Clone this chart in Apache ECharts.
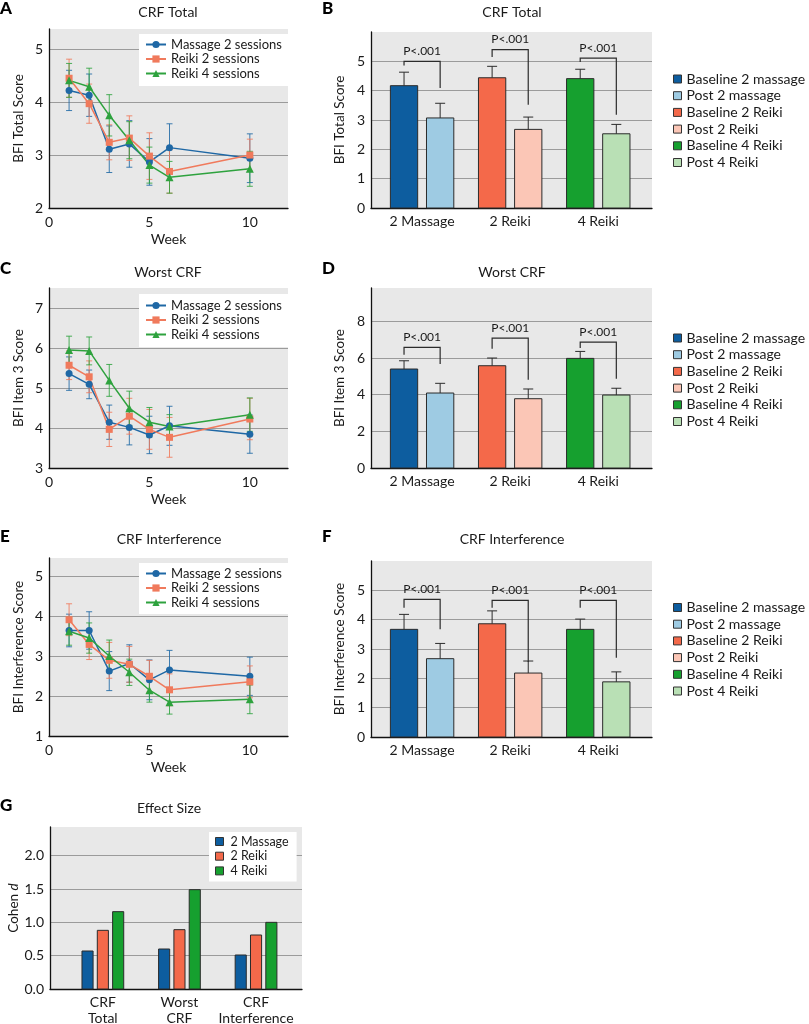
<!DOCTYPE html>
<html>
<head>
<meta charset="utf-8">
<script src="https://cdn.jsdelivr.net/npm/echarts@6/dist/echarts.min.js"></script>
<style>
html, body { margin: 0; padding: 0; background: #fff; }
#chart { width: 809px; height: 1024px; }
</style>
</head>
<body>
<div id="chart"></div>
<script>
// ---- data ----
var weeks = [1, 2, 3, 4, 5, 6, 10];

// A: CRF total over time
var totalMassage = [4.22, 4.13, 3.11, 3.21, 2.87, 3.14, 2.94];
var totalMassageErr = [0.38, 0.40, 0.44, 0.44, 0.44, 0.45, 0.46];
var totalReiki2 = [4.45, 3.97, 3.24, 3.32, 2.98, 2.69, 3.00];
var totalReiki2Err = [0.36, 0.37, 0.33, 0.42, 0.44, 0.41, 0.30];
var totalReiki4 = [4.41, 4.29, 3.75, 3.28, 2.81, 2.58, 2.74];
var totalReiki4Err = [0.32, 0.35, 0.39, 0.35, 0.34, 0.30, 0.33];

// C: worst CRF over time
var worstMassage = [5.37, 5.10, 4.15, 4.02, 3.83, 4.06, 3.85];
var worstMassageErr = [0.42, 0.36, 0.43, 0.44, 0.47, 0.49, 0.48];
var worstReiki2 = [5.58, 5.29, 3.97, 4.30, 3.97, 3.77, 4.23];
var worstReiki2Err = [0.36, 0.40, 0.43, 0.45, 0.50, 0.50, 0.52];
var worstReiki4 = [5.96, 5.94, 5.20, 4.50, 4.15, 4.04, 4.34];
var worstReiki4Err = [0.35, 0.35, 0.40, 0.43, 0.37, 0.30, 0.42];

// E: CRF interference over time
var interfMassage = [3.65, 3.65, 2.63, 2.82, 2.41, 2.66, 2.50];
var interfMassageErr = [0.41, 0.47, 0.49, 0.47, 0.50, 0.49, 0.48];
var interfReiki2 = [3.92, 3.30, 2.90, 2.80, 2.50, 2.16, 2.36];
var interfReiki2Err = [0.40, 0.38, 0.45, 0.45, 0.40, 0.40, 0.40];
var interfReiki4 = [3.63, 3.46, 3.01, 2.60, 2.15, 1.85, 1.92];
var interfReiki4Err = [0.35, 0.38, 0.40, 0.33, 0.30, 0.30, 0.36];

var lineNames = ['Massage 2 sessions', 'Reiki 2 sessions', 'Reiki 4 sessions'];

// B, D, F: baseline vs post
var groups = ['2 Massage', '2 Reiki', '4 Reiki'];
var barNames = ['Baseline 2 massage', 'Post 2 massage', 'Baseline 2 Reiki', 'Post 2 Reiki', 'Baseline 4 Reiki', 'Post 4 Reiki'];

var totalBase = [4.17, 4.44, 4.41];
var totalBaseErr = [0.46, 0.39, 0.32];
var totalPost = [3.07, 2.68, 2.53];
var totalPostErr = [0.50, 0.42, 0.32];
var totalBrTop = [5.00, 5.40, 5.11];
var totalBrLeft = [4.86, 5.15, 4.98];
var totalBrRight = [4.09, 3.52, 3.18];

var worstBase = [5.40, 5.58, 5.98];
var worstBaseErr = [0.45, 0.42, 0.38];
var worstPost = [4.09, 3.78, 3.98];
var worstPostErr = [0.53, 0.53, 0.37];
var worstBrTop = [6.58, 7.09, 6.87];
var worstBrLeft = [6.18, 6.50, 6.55];
var worstBrRight = [5.67, 4.82, 4.87];

var interfBase = [3.67, 3.86, 3.67];
var interfBaseErr = [0.51, 0.44, 0.35];
var interfPost = [2.67, 2.18, 1.88];
var interfPostErr = [0.52, 0.41, 0.34];
var interfBrTop = [4.69, 4.66, 4.66];
var interfBrLeft = [4.41, 4.41, 4.41];
var interfBrRight = [3.67, 2.56, 2.70];

var pLabel = 'P<.001';

// G: effect size
var effectCats = ['CRF\nTotal', 'Worst\nCRF', 'CRF\nInterference'];
var effectNames = ['2 Massage', '2 Reiki', '4 Reiki'];
var effectMassage = [0.57, 0.60, 0.51];
var effectReiki2 = [0.88, 0.89, 0.81];
var effectReiki4 = [1.16, 1.49, 1.00];

// ---- styling ----
var FONT = 'Lato, "Open Sans", sans-serif';
var TXT = '#1a1a1a';
var lineColors = ['#1f68a5', '#f07a5c', '#2ea23e'];
var lineSymbols = ['circle', 'rect', 'triangle'];
var barColors = ['#0d5d9f', '#9ecbe3', '#f4694a', '#fbc6b6', '#16a02f', '#b9e0b5'];
var effectColors = ['#0d5d9f', '#f4694a', '#16a02f'];

var chart = echarts.init(document.getElementById('chart'));

var gridBase = { show: true, backgroundColor: '#e8e8e8', borderWidth: 0, containLabel: false, outerBoundsMode: 'none' };
var grids = [
    { left: 49, top: 29, width: 239, height: 179 },   // A
    { left: 371, top: 32, width: 281, height: 176 },  // B
    { left: 49, top: 288, width: 239, height: 180 },  // C
    { left: 371, top: 288, width: 281, height: 180 }, // D
    { left: 49, top: 558, width: 239, height: 178 },  // E
    { left: 371, top: 561, width: 281, height: 176 }, // F
    { left: 50, top: 827, width: 252, height: 162 }   // G
].map(g => Object.assign({}, gridBase, g));

var axisLine = { show: true, onZero: false, lineStyle: { color: '#111', width: 1.3 } };
var labelStyle = { color: TXT, fontSize: 14, fontFamily: FONT };

function weekAxis(gi) {
    return {
        type: 'value', gridIndex: gi, min: 0, max: 11.9, interval: 5,
        name: 'Week', nameLocation: 'middle', nameGap: 24,
        nameTextStyle: { color: TXT, fontSize: 14, fontFamily: FONT },
        axisLine: axisLine, axisTick: { show: false },
        axisLabel: Object.assign({ margin: 7, showMaxLabel: false }, labelStyle),
        splitLine: { show: false }
    };
}

// group labels are drawn by a custom series, so this axis only shows its line
function groupAxis(gi, min, max) {
    return {
        type: 'value', gridIndex: gi, min: min, max: max,
        axisLine: axisLine, axisTick: { show: false },
        axisLabel: { show: false },
        splitLine: { show: false }
    };
}

function scoreAxis(gi, min, max, interval, name, gap, fmt) {
    return {
        type: 'value', gridIndex: gi, min: min, max: max, interval: interval,
        name: name, nameLocation: 'middle', nameGap: gap,
        nameTextStyle: {
            color: TXT, fontSize: 13.5, fontFamily: FONT,
            rich: { n: { color: TXT, fontSize: 13.5, fontFamily: FONT }, i: { color: TXT, fontSize: 13.5, fontFamily: FONT, fontStyle: 'italic' } }
        },
        axisLine: axisLine, axisTick: { show: false },
        axisLabel: Object.assign({ margin: 6, showMaxLabel: false, formatter: fmt }, labelStyle),
        splitLine: { show: true, showMinLine: false, showMaxLine: false, lineStyle: { color: '#9b9b9b', width: 1 } }
    };
}

var xAxes = [
    weekAxis(0),
    groupAxis(1, 0.42, 3.61),
    weekAxis(2),
    groupAxis(3, 0.42, 3.61),
    weekAxis(4),
    groupAxis(5, 0.42, 3.61),
    groupAxis(6, 0.31, 3.6)
];
var yAxes = [
    scoreAxis(0, 2, 5.38, 1, 'BFI Total Score', 23),
    scoreAxis(1, 0, 6, 1, 'BFI Total Score', 24),
    scoreAxis(2, 3, 7.52, 1, 'BFI Item 3 Score', 23),
    scoreAxis(3, 0, 9.82, 2, 'BFI Item 3 Score', 24),
    scoreAxis(4, 1, 5.47, 1, 'BFI Interference Score', 23),
    scoreAxis(5, 0, 6, 1, 'BFI Interference Score', 24),
    scoreAxis(6, 0, 2.43, 0.5, '{n|Cohen }{i|d}', 24, v => v.toFixed(1))
];

var series = [];

// line with error bars over weeks
function addLines(gi, sets) {
    sets.forEach(function (s, k) {
        var color = lineColors[k];
        series.push({
            type: 'custom', xAxisIndex: gi, yAxisIndex: gi, z: 2, silent: true,
            data: weeks.map((w, i) => [w, s[0][i], s[1][i]]),
            renderItem: function (params, api) {
                var x = api.value(0), y = api.value(1), e = api.value(2);
                var t = api.coord([x, y + e]), b = api.coord([x, y - e]);
                var st = { stroke: color, lineWidth: 1, opacity: 0.85 };
                return {
                    type: 'group', children: [
                        { type: 'line', shape: { x1: t[0], y1: t[1], x2: b[0], y2: b[1] }, style: st },
                        { type: 'line', shape: { x1: t[0] - 3, y1: t[1], x2: t[0] + 3, y2: t[1] }, style: st },
                        { type: 'line', shape: { x1: b[0] - 3, y1: b[1], x2: b[0] + 3, y2: b[1] }, style: st }
                    ]
                };
            }
        });
        series.push({
            type: 'line', name: lineNames[k], xAxisIndex: gi, yAxisIndex: gi, z: 3,
            data: weeks.map((w, i) => [w, s[0][i]]),
            symbol: lineSymbols[k], symbolSize: k === 2 ? 8 : 7,
            itemStyle: { color: color },
            lineStyle: { color: color, width: 1.5 }
        });
    });
}

// baseline/post bars with one-sided error bars and a P bracket
var PAIR_OFF = 0.205, PAIR_W = 0.31;
function barRender(off, w, color, withErr) {
    return function (params, api) {
        var c = api.value(0) + off, v = api.value(1);
        var a = api.coord([c - w / 2, v]), b = api.coord([c + w / 2, 0]);
        var kids = [{ type: 'rect', shape: { x: a[0], y: a[1], width: b[0] - a[0], height: b[1] - a[1] },
            style: { fill: color, stroke: '#2b2b2b', lineWidth: 1 } }];
        if (withErr) {
            var t = api.coord([c, v + api.value(2)]), m = api.coord([c, v]);
            var st = { stroke: '#2b2b2b', lineWidth: 1 };
            kids.push({ type: 'line', shape: { x1: t[0], y1: t[1], x2: m[0], y2: m[1] }, style: st });
            kids.push({ type: 'line', shape: { x1: t[0] - 5, y1: t[1], x2: t[0] + 5, y2: t[1] }, style: st });
        }
        return { type: 'group', children: kids };
    };
}

// category names under each group, placed through the axes
function addGroupLabels(gi, cats, yMin) {
    series.push({
        type: 'custom', xAxisIndex: gi, yAxisIndex: gi, silent: true, clip: false, z: 4,
        data: cats.map((c, i) => [i + 1, yMin]),
        renderItem: function (params, api) {
            var p = api.coord([api.value(0), api.value(1)]);
            return {
                type: 'text', x: p[0], y: p[1] + 5,
                style: { text: cats[params.dataIndex], fill: TXT, font: '14px ' + FONT, lineHeight: 16,
                    align: 'center', verticalAlign: 'top', textAlign: 'center', textVerticalAlign: 'top' }
            };
        }
    });
}

function addPairs(gi, base, baseErr, post, postErr, brTop, brLeft, brRight) {
    groups.forEach(function (g, i) {
        series.push({
            type: 'custom', name: barNames[2 * i], xAxisIndex: gi, yAxisIndex: gi, z: 2,
            itemStyle: { color: barColors[2 * i] },
            data: [[i + 1, base[i], baseErr[i]]],
            renderItem: barRender(-PAIR_OFF, PAIR_W, barColors[2 * i], true)
        });
        series.push({
            type: 'custom', name: barNames[2 * i + 1], xAxisIndex: gi, yAxisIndex: gi, z: 2,
            itemStyle: { color: barColors[2 * i + 1] },
            data: [[i + 1, post[i], postErr[i]]],
            renderItem: barRender(PAIR_OFF, PAIR_W, barColors[2 * i + 1], true)
        });
    });
    series.push({
        type: 'custom', xAxisIndex: gi, yAxisIndex: gi, z: 3, silent: true,
        data: groups.map((g, i) => [i + 1, brTop[i], brLeft[i], brRight[i]]),
        renderItem: function (params, api) {
            var c = api.value(0);
            var p1 = api.coord([c - PAIR_OFF, api.value(2)]);
            var p2 = api.coord([c - PAIR_OFF, api.value(1)]);
            var p3 = api.coord([c + PAIR_OFF, api.value(1)]);
            var p4 = api.coord([c + PAIR_OFF, api.value(3)]);
            var mid = api.coord([c, api.value(1)]);
            return {
                type: 'group', children: [
                    { type: 'polyline', shape: { points: [p1, p2, p3, p4] }, style: { stroke: '#2b2b2b', lineWidth: 1.2, fill: null } },
                    { type: 'text', x: mid[0], y: mid[1] - 4,
                      style: { text: pLabel, fill: TXT, font: '12px ' + FONT, align: 'center', verticalAlign: 'bottom', textAlign: 'center', textVerticalAlign: 'bottom' } }
                ]
            };
        }
    });
    addGroupLabels(gi, groups, 0);
}

addLines(0, [[totalMassage, totalMassageErr], [totalReiki2, totalReiki2Err], [totalReiki4, totalReiki4Err]]);
addLines(2, [[worstMassage, worstMassageErr], [worstReiki2, worstReiki2Err], [worstReiki4, worstReiki4Err]]);
addLines(4, [[interfMassage, interfMassageErr], [interfReiki2, interfReiki2Err], [interfReiki4, interfReiki4Err]]);

addPairs(1, totalBase, totalBaseErr, totalPost, totalPostErr, totalBrTop, totalBrLeft, totalBrRight);
addPairs(3, worstBase, worstBaseErr, worstPost, worstPostErr, worstBrTop, worstBrLeft, worstBrRight);
addPairs(5, interfBase, interfBaseErr, interfPost, interfPostErr, interfBrTop, interfBrLeft, interfBrRight);

// effect size bars
[effectMassage, effectReiki2, effectReiki4].forEach(function (vals, k) {
    series.push({
        type: 'custom', name: effectNames[k], xAxisIndex: 6, yAxisIndex: 6, z: 2,
        itemStyle: { color: effectColors[k] },
        data: vals.map((v, i) => [i + 1, v]),
        renderItem: barRender((k - 1) * 0.2, 0.145, effectColors[k], false)
    });
});
addGroupLabels(6, effectCats, 0);

// ---- legends ----
function lineLegend(top, pad) {
    return {
        data: lineNames, orient: 'vertical', left: 139, top: top,
        backgroundColor: '#fff', padding: pad, itemGap: 1.5,
        itemWidth: 20, itemHeight: 9, selectedMode: false,
        textStyle: { color: TXT, fontSize: 13, fontFamily: FONT }
    };
}
function barLegend(top) {
    return {
        data: barNames, orient: 'vertical', left: 673, top: top, padding: 0,
        icon: 'rect', itemWidth: 8, itemHeight: 8, itemGap: 2.7, selectedMode: false,
        itemStyle: { borderColor: '#333', borderWidth: 1 },
        textStyle: { color: TXT, fontSize: 14, fontFamily: FONT }
    };
}

var legends = [
    lineLegend(34, [4, 12, 6, 6]),
    lineLegend(294, [5, 12, 6, 6]),
    lineLegend(563, [4, 12, 5, 6]),
    barLegend(72),
    barLegend(331),
    barLegend(600.5),
    {
        data: effectNames, orient: 'vertical', left: 209, top: 832,
        backgroundColor: '#fff', padding: [3, 8, 4, 6], selectedMode: false,
        icon: 'rect', itemWidth: 8, itemHeight: 8, itemGap: 1.7,
        itemStyle: { borderColor: '#333', borderWidth: 1 },
        textStyle: { color: TXT, fontSize: 12.5, fontFamily: FONT, padding: [0, 0, 0, 2] }
    }
];

// ---- titles and panel letters ----
var titles = [
    ['CRF Total', 168, 12], ['CRF Total', 512, 12],
    ['Worst CRF', 168, 272], ['Worst CRF', 512, 272],
    ['CRF Interference', 169, 539], ['CRF Interference', 512, 539],
    ['Effect Size', 169, 808]
];
var letters = [['A', 0, 9], ['B', 322, 9], ['C', 0, 269], ['D', 322, 269], ['E', 0, 537], ['F', 322, 537], ['G', 0, 806]];

var graphics = titles.map(t => ({
    type: 'text', x: t[1], y: t[2],
    style: { text: t[0], fill: TXT, font: '14px ' + FONT, align: 'center', verticalAlign: 'middle', textAlign: 'center', textVerticalAlign: 'middle' }
})).concat(letters.map(t => ({
    type: 'text', x: t[1], y: t[2],
    style: { text: t[0], fill: '#000', font: '900 17px ' + FONT, align: 'left', verticalAlign: 'middle', textAlign: 'left', textVerticalAlign: 'middle' }
})));

var option = {
    animation: false,
    backgroundColor: '#fff',
    textStyle: { fontFamily: FONT },
    grid: grids,
    xAxis: xAxes,
    yAxis: yAxes,
    legend: legends,
    graphic: graphics,
    series: series
};
chart.setOption(option);
</script>
</body>
</html>
